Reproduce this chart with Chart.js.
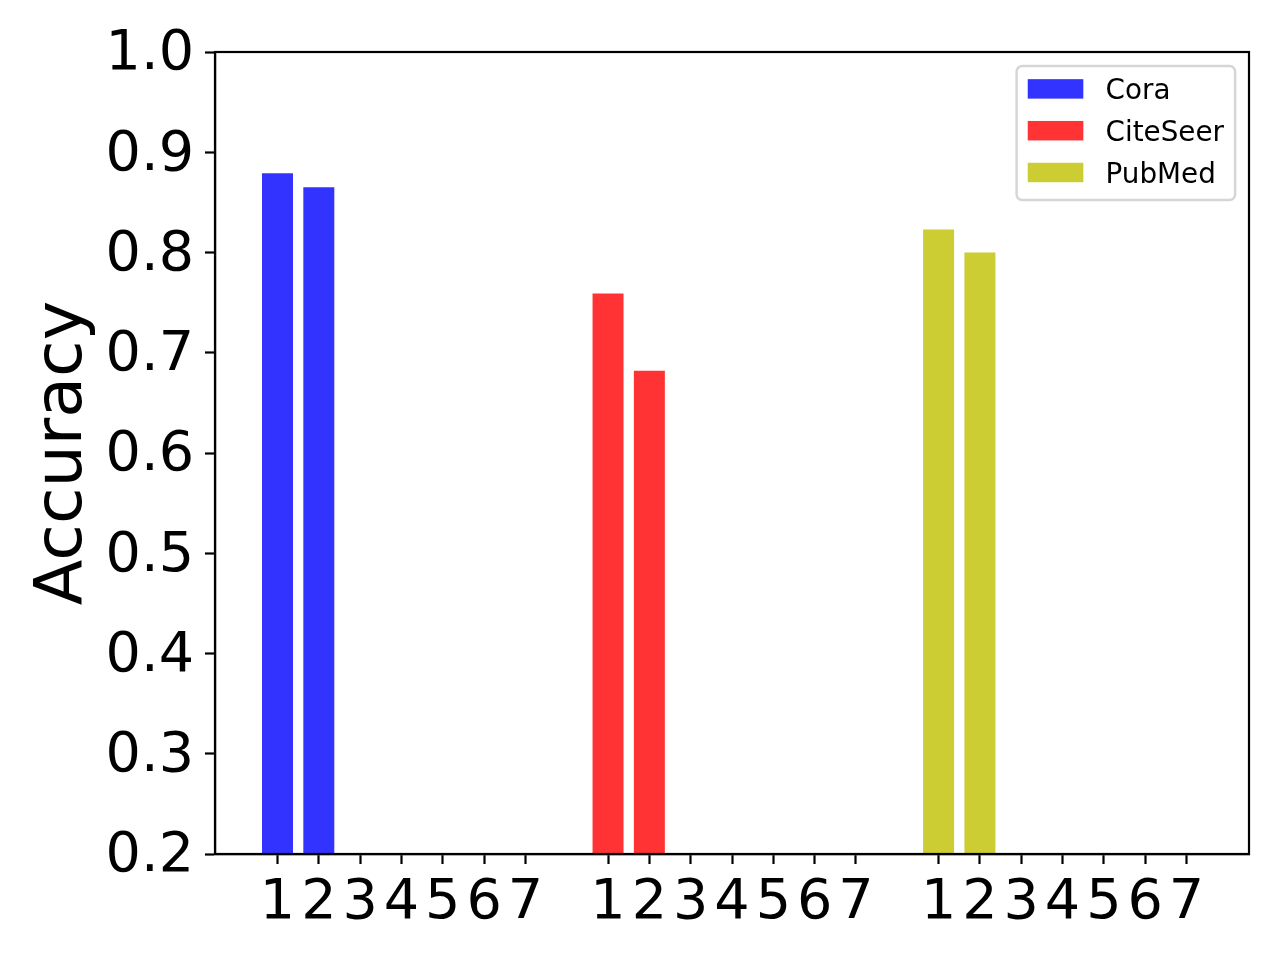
<!DOCTYPE html>
<html><head><meta charset="utf-8">
<script src="https://cdn.jsdelivr.net/npm/chart.js@4.4.0/dist/chart.umd.min.js"></script>
<style>html,body{margin:0;padding:0;background:#fff}canvas{display:block}</style>
</head><body>
<canvas id="c" width="1280" height="960"></canvas>
<script>
// ---- data ----
const groups = ['Cora', 'CiteSeer', 'PubMed'];
const categories = ['1', '2', '3', '4', '5', '6', '7'];
const coraValues = [0.879, 0.865, null, null, null, null, null];
const citeseerValues = [0.759, 0.682, null, null, null, null, null];
const pubmedValues = [0.823, 0.800, null, null, null, null, null];
const groupColors = ['#3333ff', '#ff3333', '#cccc33'];
const yTickValues = [0.2, 0.3, 0.4, 0.5, 0.6, 0.7, 0.8, 0.9, 1.0];
const yLabel = 'Accuracy';

const seriesValues = [coraValues, citeseerValues, pubmedValues];
const groupStride = categories.length + 1;
const xPositions = [];
const xTickLabels = [];
groups.forEach((g, gi) => categories.forEach((c, ci) => {
  xPositions.push(gi * groupStride + ci + 1);
  xTickLabels.push(c);
}));

const datasets = groups.map((g, gi) => ({
  label: g,
  data: categories.map((c, ci) => ({ x: gi * groupStride + ci + 1, y: seriesValues[gi][ci] })),
  backgroundColor: groupColors[gi],
  borderWidth: 0,
  barPercentage: 0.75,
  categoryPercentage: 1.0,
  grouped: false
}));

Chart.defaults.font.family = '"DejaVu Sans", sans-serif';
Chart.defaults.color = '#000';

const framePlugin = {
  id: 'frame',
  afterDatasetsDraw(chart) {
    const { ctx, chartArea: a } = chart;
    ctx.save();
    ctx.strokeStyle = '#000';
    ctx.lineWidth = 2.2;
    ctx.strokeRect(a.left, a.top, a.right - a.left, a.bottom - a.top);
    ctx.restore();
  }
};

const legendPlugin = {
  id: 'mplLegend',
  afterDraw(chart) {
    const { ctx, chartArea: a } = chart;
    const fs = 27.8;
    const ds = chart.data.datasets;
    ctx.save();
    ctx.font = fs + 'px "DejaVu Sans"';
    const pad = 0.4 * fs, handleLen = 2 * fs, handlePad = 0.8 * fs, axPad = 0.5 * fs;
    const rowStep = 41.8, rowH = 28;
    const textW = Math.max(...ds.map(d => ctx.measureText(d.label).width));
    const w = pad * 2 + handleLen + handlePad + textW;
    const h = pad * 2 + ds.length * rowH + (ds.length - 1) * 0.5 * fs;
    const x0 = a.right - axPad - w;
    const y0 = a.top + axPad;
    const r = 0.2 * fs;
    ctx.beginPath();
    ctx.moveTo(x0 + r, y0);
    ctx.lineTo(x0 + w - r, y0);
    ctx.arcTo(x0 + w, y0, x0 + w, y0 + r, r);
    ctx.lineTo(x0 + w, y0 + h - r);
    ctx.arcTo(x0 + w, y0 + h, x0 + w - r, y0 + h, r);
    ctx.lineTo(x0 + r, y0 + h);
    ctx.arcTo(x0, y0 + h, x0, y0 + h - r, r);
    ctx.lineTo(x0, y0 + r);
    ctx.arcTo(x0, y0, x0 + r, y0, r);
    ctx.closePath();
    ctx.fillStyle = 'rgba(255,255,255,0.8)';
    ctx.fill();
    ctx.strokeStyle = '#d6d6d6';
    ctx.lineWidth = 2.5;
    ctx.stroke();
    ds.forEach((d, i) => {
      const cy = y0 + 23 + i * rowStep;
      ctx.fillStyle = d.backgroundColor;
      ctx.fillRect(x0 + pad, cy - 0.35 * fs, handleLen, 0.7 * fs);
      ctx.fillStyle = '#000';
      ctx.textBaseline = 'alphabetic';
      ctx.textAlign = 'left';
      ctx.fillText(d.label, x0 + pad + handleLen + handlePad, cy + 10);
    });
    ctx.restore();
  }
};

new Chart(document.getElementById('c'), {
  type: 'bar',
  data: { datasets },
  options: {
    responsive: false,
    animation: false,
    devicePixelRatio: 1,
    layout: { padding: { top: 52, right: 31, left: 0, bottom: 0 } },
    plugins: { legend: { display: false }, tooltip: { enabled: false } },
    scales: {
      x: {
        type: 'linear',
        offset: false,
        min: -0.5125,
        max: 24.5125,
        afterBuildTicks: s => { s.ticks = xPositions.map(v => ({ value: v })); },
        afterFit: s => { s.height = 106; },
        ticks: {
          autoSkip: false,
          maxRotation: 0,
          minRotation: 0,
          padding: 6,
          font: { size: 55.6 },
          color: '#000',
          callback: (v, i) => xTickLabels[i]
        },
        grid: { drawOnChartArea: false, drawTicks: true, tickLength: 10, tickWidth: 2.2, tickColor: '#000', offset: false },
        border: { display: true, color: '#000', width: 2.2 }
      },
      y: {
        type: 'linear',
        min: 0.2,
        max: 1.0,
        afterBuildTicks: s => { s.ticks = yTickValues.map(v => ({ value: v })); },
        afterFit: s => { s.width = 215; },
        ticks: {
          padding: 11,
          labelOffset: 3,
          font: { size: 55.6 },
          color: '#000',
          callback: v => Number(v).toFixed(1)
        },
        title: { display: true, text: yLabel, font: { size: 66.7 }, color: '#000', padding: { top: 24, bottom: 0 } },
        grid: { drawOnChartArea: false, drawTicks: true, tickLength: 10, tickWidth: 2.2, tickColor: '#000' },
        border: { display: true, color: '#000', width: 2.2 }
      }
    }
  },
  plugins: [framePlugin, legendPlugin]
});
</script>
</body></html>
